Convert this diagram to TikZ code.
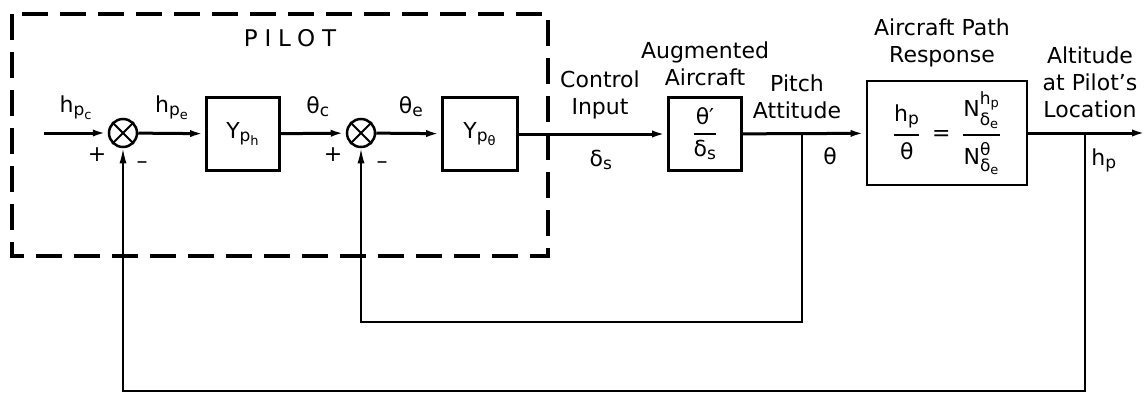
\documentclass[tikz,border=0pt]{standalone}
\usepackage{amsmath}
\usepackage{fontspec}
\setmainfont{DejaVu Sans}
\newfontfamily\pilotfont[LetterSpace=30]{DejaVu Sans}
\usetikzlibrary{arrows.meta}
\usetikzlibrary{positioning}
\DeclareMathSizes{22}{22}{17}{13}
\newcommand{\tx}[1]{\text{#1}}
\newcommand{\fr}[2]{\genfrac{}{}{2pt}{0}{#1}{#2}}
\begin{document}
\begin{tikzpicture}[x=1pt, y=-1pt, >={Latex[length=15pt,width=7pt]},
	lbl/.style={font=\fontsize{22}{27}\selectfont, align=center, inner sep=0pt},
	blk/.style={draw, line width=2.8pt, minimum width=73pt, minimum height=73pt, font=\fontsize{22}{27}\selectfont},
	sumj/.style={draw, circle, line width=2.5pt, minimum size=28pt, inner sep=0pt},
	sig/.style={line width=3pt},
	fb/.style={line width=1.8pt}]
	\useasboundingbox (0,0) rectangle (1148,394);
	\draw[line width=3.5pt, dash pattern=on 26pt off 12pt] (12,14) rectangle (548,256);
	\node[lbl, font=\fontsize{23}{27}\pilotfont] (pilot) at (290,38) {PILOT};
	% forward path
	\coordinate (hin) at (44,133);
	\node[sumj] (sumh) at (123,133) {};
	\node[blk] (yph) at (243,134) {$\tx{Y}_{\tx{p}_{\tx{h}}}$};
	\node[sumj] (sumt) at (361,133) {};
	\node[blk, minimum width=75pt] (ypt) at (480,134) {$\tx{Y}_{\tx{p}_{\tx{θ}}}$};
	\node[blk] (acft) at (705,134) {$\fr{\tx{θ′}}{\tx{δ}_{\tx{s}}}$};
	\node[blk, minimum width=160pt, minimum height=104pt] (path) at (947,133)
		{$\fr{\tx{h}_{\tx{p}}}{\tx{θ}}\;\;\tx{=}\;\;\fr{\tx{N}^{\tx{h}_{\tx{p}}}_{\tx{δ}_{\tx{e}}}}{\tx{N}^{\tx{θ}}_{\tx{δ}_{\tx{e}}}}$};
	\coordinate (thb) at (802,133);
	\coordinate (hpb) at (1085,133);
	\coordinate (hout) at (1147,133);
	\coordinate (tlow) at (802,322);
	\coordinate (hlow) at (1085,391);
	\foreach \s in {sumh, sumt}
		\draw[line width=2pt] (\s.north west) -- (\s.south east) (\s.north east) -- (\s.south west);
	\draw[sig,->] (hin) -- (sumh);
	\draw[sig,->] (sumh) -- (yph);
	\draw[sig,->] (yph) -- (sumt);
	\draw[sig,->] (sumt) -- (ypt);
	\draw[sig,->] (ypt) -- (acft);
	\draw[sig,->] (acft) -- (path);
	\draw[sig,->] (path) -- (hout);
	% feedback loops
	\draw[fb,->] (thb) -- (tlow) -| (sumt.south);
	\draw[fb,->] (hpb) -- (hlow) -| (sumh.south);
	% signal labels
	\node[lbl] (hpc) at (76,108) {$\tx{h}_{\tx{p}_{\tx{c}}}$};
	\node[lbl] (hpe) at (172,108) {$\tx{h}_{\tx{p}_{\tx{e}}}$};
	\node[lbl] (thc) at (318,107) {$\tx{θ}_{\tx{c}}$};
	\node[lbl] (the) at (411,107) {$\tx{θ}_{\tx{e}}$};
	\node[lbl] (plh) at (97,155) {+};
	\node[lbl] (mih) at (142,165) {–};
	\node[lbl] (plt) at (333,155) {+};
	\node[lbl] (mit) at (382,165) {–};
	\node[lbl] (ctrl) at (600,95) {Control\\Input};
	\node[lbl] (dls) at (601,160) {$\tx{δ}_{\tx{s}}$};
	\node[lbl] (aug) at (705,64) {Augmented\\Aircraft};
	\node[lbl] (pitch) at (797,97) {Pitch\\Attitude};
	\node[lbl] (th) at (830,156) {θ};
	\node[lbl] (resp) at (942,43) {Aircraft Path\\Response};
	\node[lbl] (alt) at (1090,82) {Altitude\\at Pilot's\\Location};
	\node[lbl] (hp) at (1104,160) {$\tx{h}_{\tx{p}}$};
\end{tikzpicture}
\end{document}
